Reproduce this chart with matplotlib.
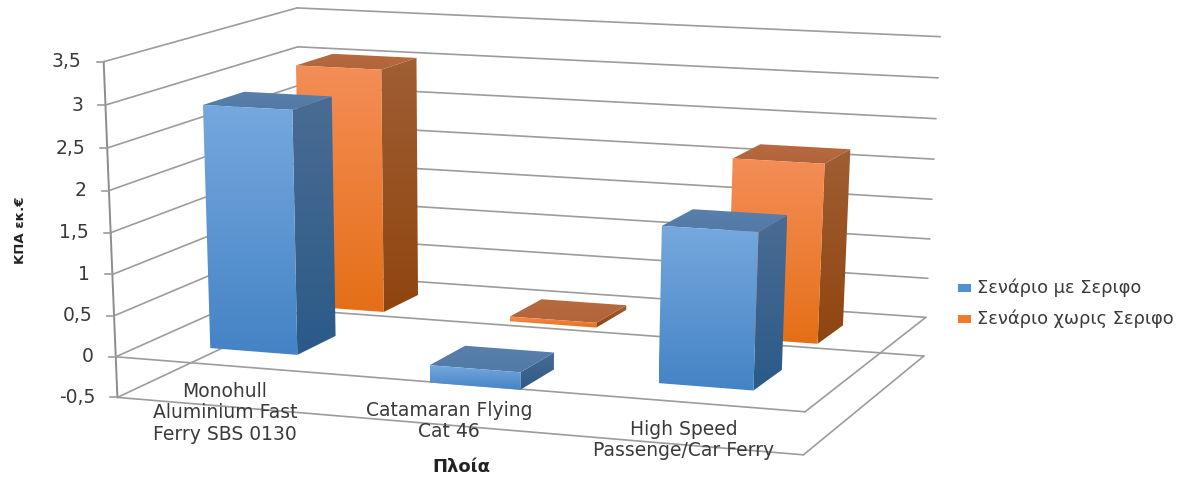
import numpy as np
import matplotlib
matplotlib.use('Agg')
import matplotlib.pyplot as plt
from matplotlib.colors import to_rgb
from matplotlib.patches import Polygon, Rectangle

categories = ['Monohull\nAluminium Fast\nFerry SBS 0130', 'Catamaran Flying\nCat 46', 'High Speed\nPassenge/Car Ferry']
series_names = ['Σενάριο με Σεριφο', 'Σενάριο χωρις Σεριφο']
with_serifos = [2.93, -0.21, 1.84]
without_serifos = [3.05, 0.06, 2.2]
tick_values = [3.5, 3, 2.5, 2, 1.5, 1, 0.5, 0, -0.5]
tick_labels = ['3,5', '3', '2,5', '2', '1,5', '1', '0,5', '0', '-0,5']
y_title = 'ΚΠΑ εκ.€'
x_title = 'Πλοία'

# world (width, depth, value) -> screen pixel pairs used to fit the camera
camera_points = [
	(0, 0, 3.5, 102, 60.5), (0, 0, 3, 105, 104), (0, 0, 2, 109, 190), (0, 0, 1, 113, 274),
	(0, 0, 0, 117, 357), (0, 0, -0.5, 118, 398),
	(1, 0, 0, 805, 411), (1, 0, -0.5, 803, 456),
	(0, 1, 3.5, 298, 10), (0, 1, 3, 298, 48.7), (0, 1, -0.5, 298, 306),
	(1, 1, 3.5, 940, 36), (1, 1, 3, 938, 77), (1, 1, 2, 934, 159), (1, 1, 1, 930, 238),
	(1, 1, 0, 926, 318), (1, 1, -0.5, 924, 357),
	# floor contact points
	(0.0997, 0.15, 0, 211, 349), (0.2337, 0.15, 0, 297, 355), (0.2337, 0.36, 0, 334, 338),
	(0.2337, 0.64, 0, 386, 312), (0.2337, 0.85, 0, 419, 296),
	(0.433, 0.64, 0, 512, 320.5), (0.567, 0.64, 0, 598, 327), (0.567, 0.85, 0, 627, 310),
	(0.7663, 0.15, 0, 658, 383), (0.9003, 0.15, 0, 753, 390), (0.9003, 0.36, 0, 780, 371),
	(0.9003, 0.64, 0, 818, 343), (0.9003, 0.85, 0, 842, 326),
]

BAR_WIDTH = 0.134
DEPTH_ROWS = [(0.15, 0.36), (0.64, 0.85)]
FACE_COLORS = [
	{'front': ('#75a8de', '#4483c5'), 'side': ('#4a6c93', '#2b5a88'), 'top': ('#5a7fac', '#527aa7'), 'key': '#4f90d2'},
	{'front': ('#f48e57', '#e56f17'), 'side': ('#a05e34', '#8f450f'), 'top': ('#b86a3f', '#b1643a'), 'key': '#ee7a2a'},
]
GRID = '#9c9c9c'
TEXT = '#3a3a3a'


def fit_camera(points):
	rows = []
	for x, y, z, px, py in points:
		px, py = px / 1000, py / 1000
		rows.append([x, y, z, 1, 0, 0, 0, 0, -px * x, -px * y, -px * z, -px])
		rows.append([0, 0, 0, 0, x, y, z, 1, -py * x, -py * y, -py * z, -py])
	return np.linalg.svd(np.array(rows))[2][-1].reshape(3, 4)


camera = fit_camera(camera_points)


def project(x, y, z):
	u, v, w = camera @ np.array([x, y, z, 1.0])
	return 1000 * u / w, 1000 * v / w


def line3d(ax, a, b, lw=1.2, color=GRID):
	pa, pb = project(*a), project(*b)
	ax.plot([pa[0], pb[0]], [pa[1], pb[1]], color=color, lw=lw, zorder=1, solid_capstyle='round')


def fill_face(ax, corners, colors, order):
	corners = np.array(corners)
	poly = Polygon(corners, closed=True, fc='none', ec='none')
	ax.add_patch(poly)
	g = np.linspace(0, 1, 128)[:, None, None]
	rgb = np.array(to_rgb(colors[0]))[None, None, :] * (1 - g) + np.array(to_rgb(colors[1]))[None, None, :] * g
	extent = (corners[:, 0].min(), corners[:, 0].max(), corners[:, 1].max(), corners[:, 1].min())
	im = ax.imshow(rgb, extent=extent, aspect='auto', interpolation='bilinear', zorder=order)
	im.set_clip_path(poly)


def draw_bar(ax, center, depth, value, colors, order):
	x0, x1 = center - BAR_WIDTH / 2, center + BAR_WIDTH / 2
	y0, y1 = depth
	hi, lo = max(value, 0), min(value, 0)
	side = [project(x1, y0, hi), project(x1, y1, hi), project(x1, y1, lo), project(x1, y0, lo)]
	top = [project(x0, y0, hi), project(x1, y0, hi), project(x1, y1, hi), project(x0, y1, hi)]
	front = [project(x0, y0, hi), project(x1, y0, hi), project(x1, y0, lo), project(x0, y0, lo)]
	fill_face(ax, side, colors['side'], order)
	fill_face(ax, top, colors['top'], order + 0.1)
	fill_face(ax, front, colors['front'], order + 0.2)


fig = plt.figure(figsize=(11.84, 4.8), dpi=100)
ax = fig.add_axes([0, 0, 1, 1])
ax.set_xlim(0, 1184)
ax.set_ylim(480, 0)
ax.autoscale(False)
ax.axis('off')

plt.rcParams['font.family'] = ['DejaVu Sans']

# walls and floor
for z in tick_values:
	line3d(ax, (0, 0, z), (0, 1, z))
	line3d(ax, (0, 1, z), (1, 1, z))
for z in (0, -0.5):
	line3d(ax, (0, 0, z), (1, 0, z))
	line3d(ax, (1, 0, z), (1, 1, z))
line3d(ax, (0, 0, 3.5), (0, 0, -0.5), lw=1.4, color='#8c8c8c')

# value axis ticks and labels
for z, label in zip(tick_values, tick_labels):
	px, py = project(0, 0, z)
	ax.plot([px - 7, px], [py, py], color=GRID, lw=1.2, zorder=1)
	ax.text(px - 22, py, label, ha='right', va='center', fontsize=13.5, color=TEXT)

# back row first so the front row covers it
centers = (np.arange(len(categories)) + 0.5) / len(categories)
for row in (1, 0):
	vals = [with_serifos, without_serifos][row]
	for i, v in enumerate(vals):
		draw_bar(ax, centers[i], DEPTH_ROWS[row], v, FACE_COLORS[row], 3 + (1 - row) + i * 0.09)

for name, cx, cy in zip(categories, (225, 449, 684), (413, 421, 440)):
	ax.text(cx, cy, name, ha='center', va='center', fontsize=13.5, color=TEXT, linespacing=1.15, zorder=8)

ax.text(21, 230, y_title, rotation=90, ha='center', va='center', fontsize=9.5, fontweight='bold', color='#222222')
ax.text(461, 467, x_title, ha='center', va='center', fontsize=13, fontweight='bold', color='#222222')

# legend
for name, colors, y in zip(series_names, FACE_COLORS, (288, 319)):
	ax.add_patch(Rectangle((958, y - 4), 13, 8, fc=colors['key'], ec='none'))
	ax.text(977, y, name, ha='left', va='center', fontsize=12.9, color=TEXT)

fig.savefig('out.png', dpi=100)
